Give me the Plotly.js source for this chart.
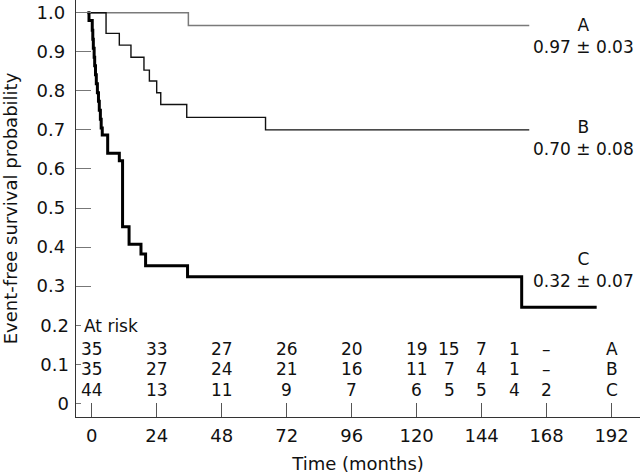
<!DOCTYPE html>
<html>
<head>
<meta charset="utf-8">
<script src="https://cdn.plot.ly/plotly-3.0.1.min.js"></script>
<style>html,body{margin:0;padding:0;background:#fff;}#chart{width:640px;height:474px;}</style>
</head>
<body>
<div id="chart"></div>
<script>
// Kaplan-Meier step data (months, event-free survival probability)
const timeA = [-1.6, 35.7, 161.6];
const survA = [1.0, 0.967, 0.967];

const timeB = [-1.6, 5.3, 10.2, 14.5, 19.3, 21.3, 24.0, 25.5, 35.1, 64.2, 161.6];
const survB = [1.0, 0.947, 0.917, 0.886, 0.853, 0.825, 0.795, 0.765, 0.732, 0.700, 0.700];

const timeC = [-1.6, -1.0, 0.2, 0.4, 0.6, 0.9, 1.1, 1.4, 1.7, 2.1, 2.5, 2.8, 3.2, 3.5, 3.9, 5.9, 10.2, 11.4, 13.8, 18.2, 19.9, 35.4, 158.8, 186.5];
const survC = [1.0, 0.980, 0.955, 0.932, 0.909, 0.886, 0.864, 0.841, 0.818, 0.795, 0.773, 0.750, 0.727, 0.705, 0.687, 0.640, 0.621, 0.452, 0.407, 0.382, 0.352, 0.324, 0.246, 0.246];

// Group labels and final estimates
const groupNames = ["A", "B", "C"];
const finalEstimates = ["0.97 ± 0.03", "0.70 ± 0.08", "0.32 ± 0.07"];

// Numbers at risk
const riskMonths = [0, 24, 48, 72, 96, 120, 132, 144, 156, 168];
const riskA = ["35", "33", "27", "26", "20", "19", "15", "7", "1", "–"];
const riskB = ["35", "27", "24", "21", "16", "11", "7", "4", "1", "–"];
const riskC = ["44", "13", "11", "9", "7", "6", "5", "5", "4", "2"];
const riskLabelMonth = 192;

// Axis ticks
const xTicks = [0, 24, 48, 72, 96, 120, 144, 168, 192];
const yTicksUpper = [0.3, 0.4, 0.5, 0.6, 0.7, 0.8, 0.9, 1.0];
const yTicksUpperText = ["0.3", "0.4", "0.5", "0.6", "0.7", "0.8", "0.9", "1.0"];
const yTicksLower = [0, 0.1, 0.2];
const yTicksLowerText = ["0", "0.1", "0.2"];

const FONT = "DejaVu Sans";
const FS = 17;
const TFS = 18;

const traces = [
  {x: timeA, y: survA, mode: "lines", line: {shape: "hv", color: "#7a7a7a", width: 1.5}, hoverinfo: "skip", showlegend: false},
  {x: timeB, y: survB, mode: "lines", line: {shape: "hv", color: "#111", width: 1.4}, hoverinfo: "skip", showlegend: false},
  {x: timeC, y: survC, mode: "lines", line: {shape: "hv", color: "#000", width: 3}, hoverinfo: "skip", showlegend: false},
  // invisible trace to activate the secondary y axis
  {x: [0], y: [0], yaxis: "y2", mode: "markers", marker: {opacity: 0}, hoverinfo: "skip", showlegend: false}
];

const annotations = [];
const labelPos = [{y: 0.941}, {y: 0.680}, {y: 0.341}];
groupNames.forEach((g, i) => {
  annotations.push({x: 181.8, y: labelPos[i].y, xref: "x", yref: "y",
    text: g + "<br>" + finalEstimates[i], showarrow: false,
    font: {family: FONT, size: FS, color: "#111"}, align: "center"});
});
annotations.push({x: -3.7, y: 0.198, xref: "x", yref: "y", text: "At risk", showarrow: false,
  xanchor: "left", font: {family: FONT, size: FS, color: "#111"}});
const rows = [riskA, riskB, riskC];
const rowY = [0.138, 0.087, 0.035];
rows.forEach((r, j) => {
  r.forEach((v, i) => {
    annotations.push({x: riskMonths[i], y: rowY[j], xref: "x", yref: "y", text: v, showarrow: false,
      font: {family: FONT, size: FS, color: "#111"}});
  });
  annotations.push({x: riskLabelMonth, y: rowY[j], xref: "x", yref: "y", text: groupNames[j], showarrow: false,
    font: {family: FONT, size: FS, color: "#111"}});
});

const layout = {
  width: 640, height: 474,
  margin: {l: 76, r: 0, t: 0, b: 57, pad: 0},
  paper_bgcolor: "#fff", plot_bgcolor: "#fff",
  font: {family: FONT, size: FS, color: "#111"},
  showlegend: false,
  xaxis: {
    range: [-5.8, 202.5], tickvals: xTicks, ticktext: xTicks.map(String),
    ticks: "inside", ticklen: 14, tickcolor: "#555", tickwidth: 1,
    showline: true, linecolor: "#333", linewidth: 1.2, zeroline: false, showgrid: false,
    tickfont: {family: FONT, size: TFS, color: "#111"}, ticklabelstandoff: 2,
    title: {text: "Time (months)", font: {family: FONT, size: TFS, color: "#111"}, standoff: 14}
  },
  yaxis: {
    range: [-0.035, 1.0325], tickvals: yTicksUpper, ticktext: yTicksUpperText,
    ticks: "inside", ticklen: 15, tickcolor: "#777", tickwidth: 1,
    showline: true, linecolor: "#333", linewidth: 1.2, zeroline: false, showgrid: false,
    tickfont: {family: FONT, size: TFS, color: "#111"}, ticklabelstandoff: 6,
    title: {text: "Event-free survival probability", font: {family: FONT, size: TFS, color: "#111"}, standoff: 14}
  },
  yaxis2: {
    overlaying: "y", side: "left", anchor: "x",
    range: [-0.035, 1.0325], tickvals: yTicksLower, ticktext: yTicksLowerText,
    ticks: "inside", ticklen: 5, tickcolor: "#777", tickwidth: 1,
    showline: false, zeroline: false, showgrid: false,
    tickfont: {family: FONT, size: TFS, color: "#111"}, ticklabelstandoff: 6
  },
  annotations: annotations
};

Plotly.newPlot("chart", traces, layout, {staticPlot: true, displayModeBar: false});
</script>
</body>
</html>
